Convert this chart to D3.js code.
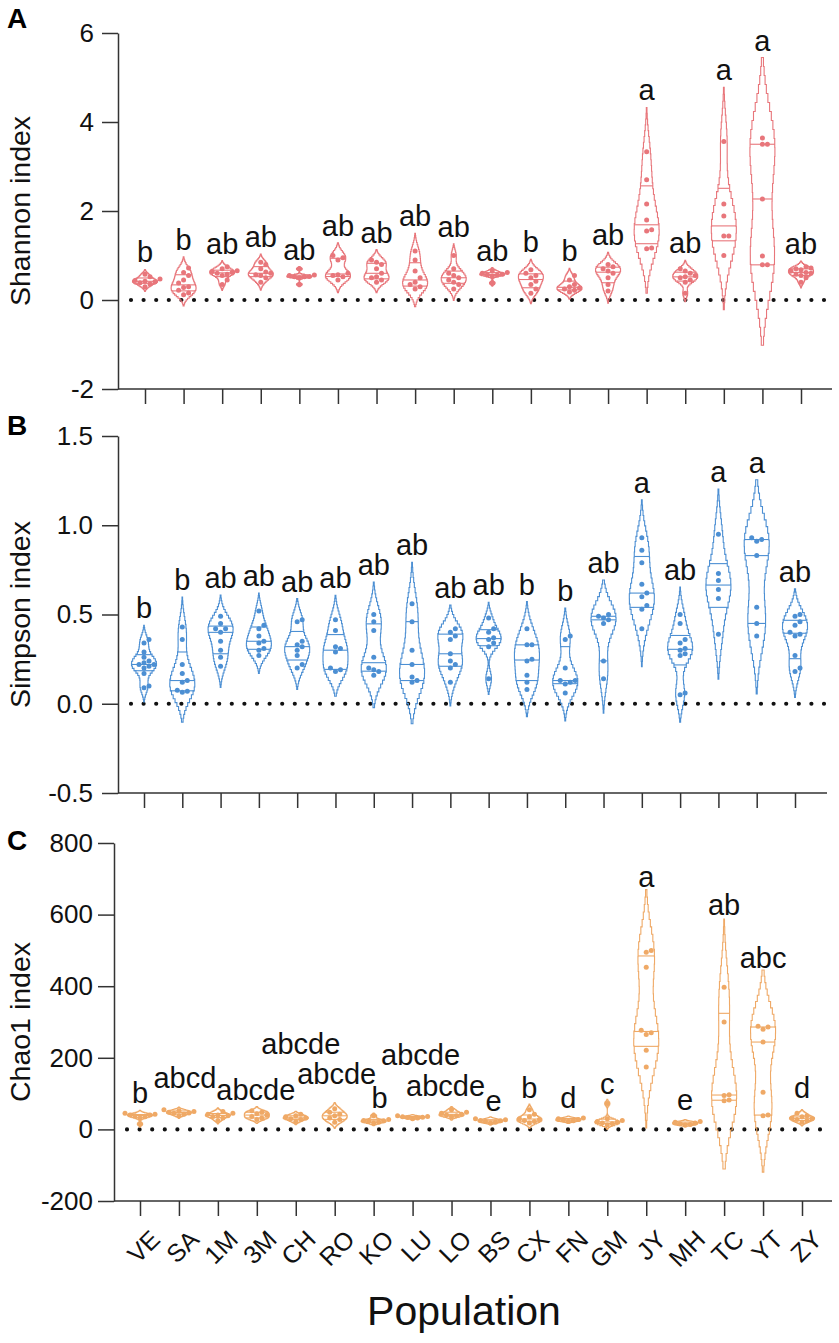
<!DOCTYPE html>
<html>
<head>
<meta charset="utf-8">
<script src="https://cdn.jsdelivr.net/npm/d3@7"></script>
<style>
  body { margin: 0; background: #fff; }
  text { font-family: "Liberation Sans", Arial, sans-serif; }
</style>
</head>
<body>
<div id="chart"></div>
<script>
// ---- data ----
var populations = ["VE","SA","1M","3M","CH","RO","KO","LU","LO","BS","CX","FN","GM","JY","MH","TC","YT","ZY"];

var shannon = [
  [0.30, 0.36, 0.39, 0.41, 0.42, 0.44, 0.47, 0.52, 0.58],
  [0.12, 0.16, 0.22, 0.28, 0.30, 0.38, 0.45, 0.55, 0.62, 0.72],
  [0.35, 0.45, 0.55, 0.58, 0.60, 0.62, 0.64, 0.66, 0.70, 0.75],
  [0.40, 0.50, 0.55, 0.57, 0.60, 0.63, 0.70, 0.80, 0.85],
  [0.35, 0.50, 0.52, 0.52, 0.53, 0.55, 0.56, 0.70],
  [0.45, 0.52, 0.55, 0.57, 0.60, 0.90, 0.95, 1.00],
  [0.40, 0.45, 0.50, 0.52, 0.60, 0.70, 0.80, 0.85, 0.90],
  [0.25, 0.30, 0.35, 0.40, 0.50, 0.65, 0.90, 1.10],
  [0.25, 0.35, 0.40, 0.45, 0.50, 0.55, 0.60, 0.70, 1.00],
  [0.38, 0.54, 0.56, 0.57, 0.58, 0.60, 0.62, 0.66],
  [0.15, 0.25, 0.35, 0.42, 0.50, 0.55, 0.60, 0.68],
  [0.18, 0.22, 0.25, 0.27, 0.30, 0.35, 0.45, 0.55],
  [0.20, 0.35, 0.50, 0.60, 0.65, 0.70, 0.75, 0.80],
  [1.15, 1.17, 1.55, 1.58, 1.80, 2.16, 2.70, 3.33],
  [0.15, 0.40, 0.45, 0.50, 0.52, 0.55, 0.60, 0.65, 0.70],
  [1.00, 1.44, 1.44, 1.89, 2.16, 3.56],
  [0.79, 0.79, 0.99, 2.27, 3.50, 3.50, 3.64],
  [0.40, 0.50, 0.55, 0.58, 0.60, 0.62, 0.65, 0.68, 0.70, 0.72, 0.75]
];
var shannonLetters = ["b","b","ab","ab","ab","ab","ab","ab","ab","ab","b","b","ab","a","ab","a","a","ab"];

var simpson = [
  [0.09, 0.10, 0.17, 0.20, 0.21, 0.22, 0.22, 0.23, 0.24, 0.26, 0.29, 0.34, 0.36],
  [0.065, 0.07, 0.075, 0.12, 0.13, 0.17, 0.22, 0.36, 0.43],
  [0.21, 0.26, 0.30, 0.35, 0.40, 0.42, 0.42, 0.45, 0.49],
  [0.27, 0.30, 0.31, 0.34, 0.35, 0.38, 0.42, 0.44, 0.52],
  [0.20, 0.22, 0.27, 0.30, 0.32, 0.33, 0.35, 0.46, 0.47],
  [0.18, 0.19, 0.20, 0.29, 0.31, 0.32, 0.41, 0.47],
  [0.16, 0.18, 0.19, 0.20, 0.26, 0.41, 0.46, 0.50],
  [0.12, 0.13, 0.15, 0.22, 0.30, 0.46, 0.56],
  [0.12, 0.20, 0.22, 0.24, 0.28, 0.36, 0.38, 0.40, 0.42],
  [0.14, 0.32, 0.34, 0.36, 0.37, 0.40, 0.42, 0.48],
  [0.08, 0.12, 0.16, 0.24, 0.25, 0.33, 0.33, 0.42],
  [0.06, 0.11, 0.12, 0.13, 0.13, 0.20, 0.36, 0.38],
  [0.14, 0.24, 0.45, 0.47, 0.48, 0.49, 0.50],
  [0.42, 0.53, 0.55, 0.60, 0.62, 0.67, 0.79, 0.86, 0.93],
  [0.05, 0.06, 0.27, 0.28, 0.30, 0.31, 0.34, 0.36, 0.45, 0.50],
  [0.39, 0.59, 0.64, 0.69, 0.73, 0.95],
  [0.38, 0.45, 0.54, 0.83, 0.91, 0.92, 0.93],
  [0.18, 0.20, 0.27, 0.38, 0.39, 0.40, 0.44, 0.46, 0.49, 0.50]
];
var simpsonLetters = ["b","b","ab","ab","ab","ab","ab","ab","ab","ab","b","b","ab","a","ab","a","a","ab"];

var chao1 = [
  [15, 32, 35, 38, 40, 40, 42, 45],
  [38, 42, 45, 46, 48, 50, 52, 55],
  [25, 32, 36, 38, 40, 42, 45, 50],
  [28, 32, 36, 40, 44, 48, 52],
  [22, 28, 30, 32, 35, 38, 42],
  [20, 28, 32, 38, 42, 48, 58],
  [18, 20, 22, 24, 25, 28, 38],
  [30, 32, 33, 34, 35, 36, 38],
  [35, 38, 40, 42, 45, 48, 55],
  [18, 20, 22, 24, 25, 27, 30],
  [18, 22, 25, 28, 30, 35, 42, 55],
  [22, 24, 26, 28, 30, 32],
  [12, 16, 18, 20, 22, 25, 30, 72],
  [174, 221, 265, 270, 277, 453, 495, 500],
  [12, 14, 16, 18, 20, 22],
  [80, 82, 95, 97, 300, 397],
  [38, 40, 104, 244, 280, 286, 288],
  [20, 24, 28, 30, 32, 35, 38, 45]
];
var chao1Letters = ["b","abcd","","abcde","abcde","abcde","b","abcde","abcde","e","b","d","c","a","e","ab","abc","d"];

var shannonTicks = [-2, 0, 2, 4, 6];
var simpsonTicks = [-0.5, 0, 0.5, 1.0, 1.5];
var chao1Ticks = [-200, 0, 200, 400, 600, 800];

// ---- layout ----
// the Chao1 letters were staggered by hand in the original: level (data units) and nudge (px)
var chaoLabelLevel = [75, 115, 0, 81, 210, 126, 59, 180, 94, 52, 89, 59, 100, 676, 53, 598, 452, 89];
var chaoLabelNudge = [0, 6, 0, -1, 5, 2, 6, 8, -6, 3, 0, 0, 0, 0, 0, 0, 0, 0];

var panels = [
  { tag: "A", title: "Shannon index", values: shannon, letters: shannonLetters, ticks: shannonTicks,
    domain: [-2, 6], yRange: [389, 33], axisX: 118, xRange: [145, 801], xEnd: 832, tagY: 28,
    pad: 8, color: "#E8767B", fmt: d3.format("d") },
  { tag: "B", title: "Simpson index", values: simpson, letters: simpsonLetters, ticks: simpsonTicks,
    domain: [-0.5, 1.5], yRange: [793, 436], axisX: 118, xRange: [144, 795], xEnd: 827, tagY: 435,
    pad: 9, color: "#4C8FD3", fmt: d3.format(".1f") },
  { tag: "C", title: "Chao1 index", values: chao1, letters: chao1Letters, ticks: chao1Ticks,
    domain: [-200, 800], yRange: [1201, 843], axisX: 114, xRange: [140, 802], xEnd: 832, tagY: 850,
    pad: 5, color: "#EFA966", fmt: d3.format("d"), labels: true }
];

var svg = d3.select("#chart").append("svg")
  .attr("width", 839)
  .attr("height", 1343);

var halfW = 12.5;
var steps = 32;

// quartiles the way Prism does them: position (n+1)p
function quart(sorted, p) {
  var n = sorted.length, pos = (n + 1) * p;
  if (pos <= 1) return sorted[0];
  if (pos >= n) return sorted[n - 1];
  var i = Math.floor(pos), f = pos - i;
  return sorted[i - 1] + f * (sorted[i] - sorted[i - 1]);
}

function violin(vals) {
  var s = vals.slice().sort(d3.ascending);
  var sd = d3.deviation(s);
  var iqr = quart(s, 0.75) - quart(s, 0.25);
  var spread = Math.min(sd, iqr / 1.34) || sd;
  var h = 0.9 * spread * Math.pow(s.length, -0.2);
  var lo = s[0] - 2.2 * h, hi = s[s.length - 1] + 2.2 * h;
  var bins = d3.range(steps).map(function(i) {
    var a = lo + (hi - lo) * i / steps, b = lo + (hi - lo) * (i + 1) / steps, m = (a + b) / 2;
    return { a: a, b: b, d: d3.mean(s, function(v) { return Math.exp(-0.5 * Math.pow((m - v) / h, 2)); }) };
  });
  var maxD = d3.max(bins, function(b) { return b.d; });
  bins.forEach(function(b) { b.w = halfW * b.d / maxD; });
  return { sorted: s, lo: lo, hi: hi, bins: bins,
    q: [quart(s, 0.25), quart(s, 0.5), quart(s, 0.75)] };
}

function widthAt(v, bins) {
  var b = bins.find(function(b) { return v >= b.a && v <= b.b; });
  return b ? b.w : 0;
}

// simple swarm so tied points sit side by side
function swarm(sorted, y) {
  var placed = [];
  return sorted.map(function(v) {
    var py = y(v), dx = 0;
    var offs = [0, 5, -5, 10, -10, 15, -15];
    for (var k = 0; k < offs.length; k++) {
      var ok = placed.every(function(p) { return Math.hypot(p.dx - offs[k], p.py - py) >= 5; });
      if (ok) { dx = offs[k]; break; }
    }
    placed.push({ dx: dx, py: py });
    return { v: v, dx: dx };
  });
}

panels.forEach(function(p) {
  var g = svg.append("g");
  var y = d3.scaleLinear().domain(p.domain).range(p.yRange);
  var x = d3.scalePoint().domain(populations).range(p.xRange);
  var axisY = p.yRange[0];
  var fmt = function(d) { return p.fmt(d).replace("\u2212", "-"); };

  // panel tag
  g.append("text")
    .attr("x", 7).attr("y", p.tagY)
    .attr("font-size", 28).attr("font-weight", "bold")
    .text(p.tag);

  // y axis
  var yAxis = g.append("g")
    .attr("transform", "translate(" + p.axisX + ",0)")
    .call(d3.axisLeft(y).tickValues(p.ticks).tickFormat(fmt).tickSize(16).tickSizeOuter(0).tickPadding(p.pad));
  yAxis.selectAll("text").attr("font-size", 26).attr("fill", "#111")
    .style("font-family", "'Liberation Sans', Arial, sans-serif");
  yAxis.selectAll("line, path").attr("stroke", "#333").attr("stroke-width", 1.5);

  // y title
  g.append("text")
    .attr("transform", "translate(30," + ((p.yRange[0] + p.yRange[1]) / 2) + ") rotate(-90)")
    .attr("text-anchor", "middle")
    .attr("font-size", 28.5).attr("fill", "#111")
    .text(p.title);

  // x axis
  var xAxis = g.append("g")
    .attr("transform", "translate(0," + axisY + ")")
    .call(d3.axisBottom(x).tickSize(15).tickFormat(p.labels ? null : ""));
  xAxis.select(".domain").remove();
  xAxis.selectAll("line").attr("stroke", "#333").attr("stroke-width", 1.5);
  g.append("line")
    .attr("x1", p.axisX).attr("x2", p.xEnd)
    .attr("y1", axisY).attr("y2", axisY)
    .attr("stroke", "#333").attr("stroke-width", 1.5);
  if (p.labels) {
    xAxis.selectAll("text")
      .attr("y", null).attr("dy", null)
      .attr("text-anchor", "end")
      .attr("font-size", 25).attr("fill", "#111")
      .style("font-family", "'Liberation Sans', Arial, sans-serif")
      .attr("transform", "translate(21,40) rotate(-45)");
  }

  // dotted zero line
  g.append("line")
    .attr("x1", p.axisX + 13).attr("x2", p.xEnd)
    .attr("y1", y(0)).attr("y2", y(0))
    .attr("stroke", "#111").attr("stroke-width", 4.2)
    .attr("stroke-linecap", "round")
    .attr("stroke-dasharray", "0,12.6");

  // violins
  p.values.forEach(function(vals, i) {
    var cx = x(populations[i]);
    var vio = violin(vals);
    var pts = [];
    vio.bins.forEach(function(b) {
      pts.push([cx + b.w, y(b.a)], [cx + b.w, y(b.b)]);
    });
    vio.bins.slice().reverse().forEach(function(b) {
      pts.push([cx - b.w, y(b.b)], [cx - b.w, y(b.a)]);
    });
    var vg = g.append("g");
    vg.append("path")
      .attr("d", d3.line()(pts) + "Z")
      .attr("fill", "none")
      .attr("stroke", p.color).attr("stroke-width", 1.1);

    vg.selectAll(".q").data(vio.q).join("line")
      .attr("x1", function(q) { return cx - widthAt(q, vio.bins); })
      .attr("x2", function(q) { return cx + widthAt(q, vio.bins); })
      .attr("y1", function(q) { return y(q); })
      .attr("y2", function(q) { return y(q); })
      .attr("stroke", p.color).attr("stroke-width", 1.1);

    vg.selectAll("circle").data(swarm(vio.sorted, y)).join("circle")
      .attr("cx", function(d) { return cx + d.dx; })
      .attr("cy", function(d) { return y(d.v); })
      .attr("r", 2.5)
      .attr("fill", p.color);

    // significance letters
    var lx = cx, ly = y(vio.hi) - 7;
    if (p.tag === "C") { lx = cx + chaoLabelNudge[i]; ly = y(chaoLabelLevel[i]); }
    g.append("text")
      .attr("x", lx).attr("y", ly)
      .attr("text-anchor", "middle")
      .attr("font-size", 29).attr("fill", "#111")
      .text(p.letters[i]);
  });
});

// x title
svg.append("text")
  .attr("x", 464).attr("y", 1325)
  .attr("text-anchor", "middle")
  .attr("font-size", 41).attr("fill", "#111")
  .text("Population");
</script>
</body>
</html>
